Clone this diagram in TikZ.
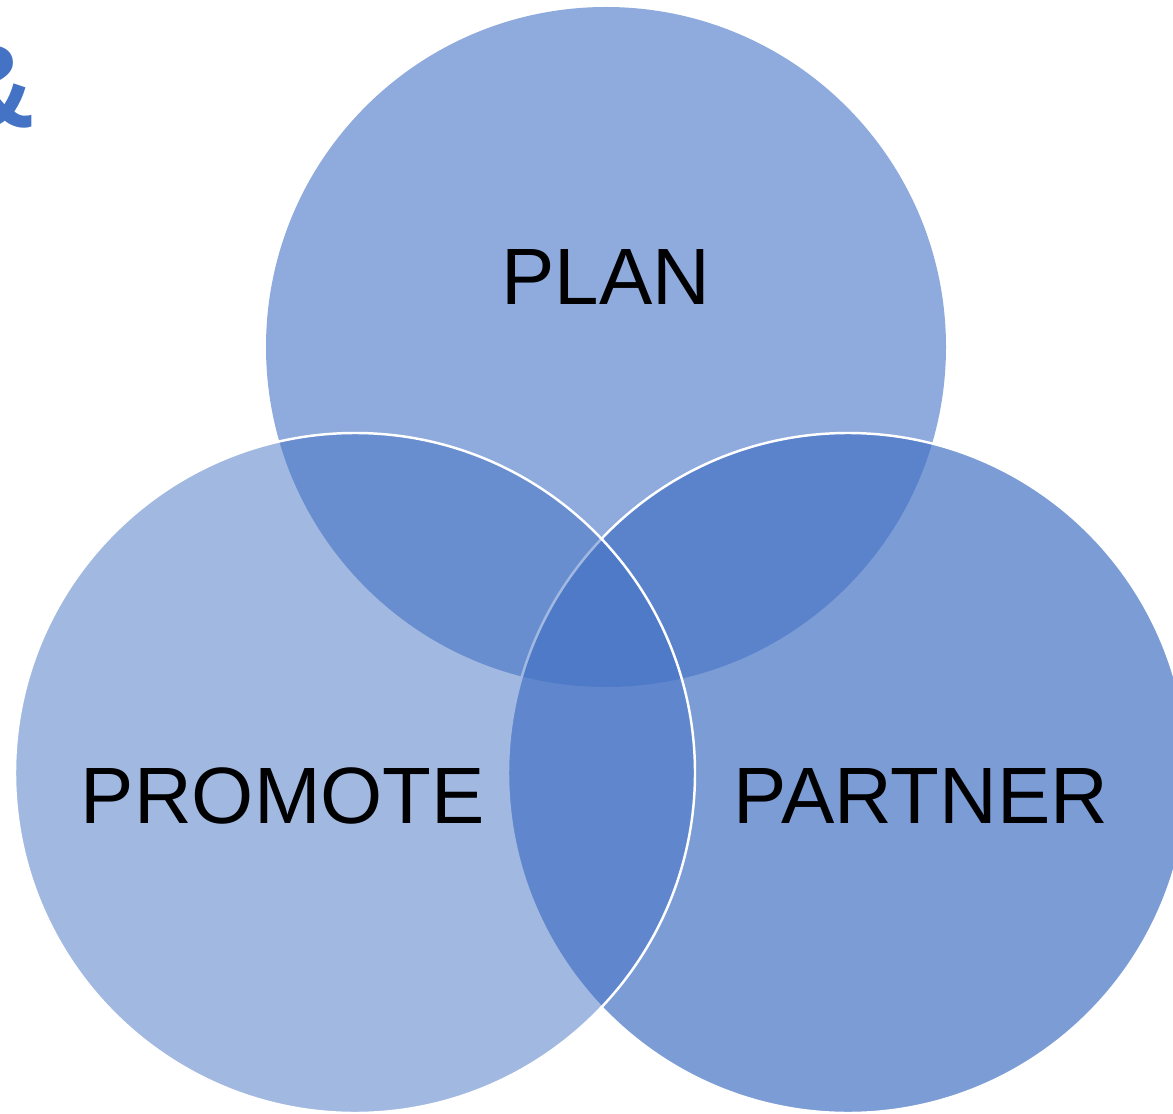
\documentclass[tikz,border=0pt]{standalone}
\usepackage{fontspec}
\setmainfont{Liberation Sans}
\definecolor{acc}{HTML}{4472C4}
\begin{document}
\begin{tikzpicture}[x=0.02cm,y=-0.02cm,
  venn/.style={fill=acc, draw=white, line width=1.4pt, draw opacity=1},
  lbl/.style={font=\fontsize{45.5}{45.5}\selectfont, text=black, inner sep=0pt, anchor=base},
  amp/.style={font=\fontsize{67}{67}\selectfont\bfseries, text=acc, inner sep=0pt, anchor=base east}]
\useasboundingbox (0,0) rectangle (1173,1114);
\clip (0,0) rectangle (1173,1114);
% circles: top, right, left (drawing order matters)
\path[venn, fill opacity=0.6, draw=none] (606,347) circle [radius=340];
\path[venn, fill opacity=0.7] (848,773) circle [radius=340];
\path[venn, fill opacity=0.5] (355,773) circle [radius=340];
% labels
\node[lbl] (plan) at (606,305) {PLAN};
\node[lbl] (promote) at (283,823) {PROMOTE};
\node[lbl] (partner) at (921,823) {PARTNER};
\node[amp] (amp) at (36,128) {\&};
\end{tikzpicture}
\end{document}
